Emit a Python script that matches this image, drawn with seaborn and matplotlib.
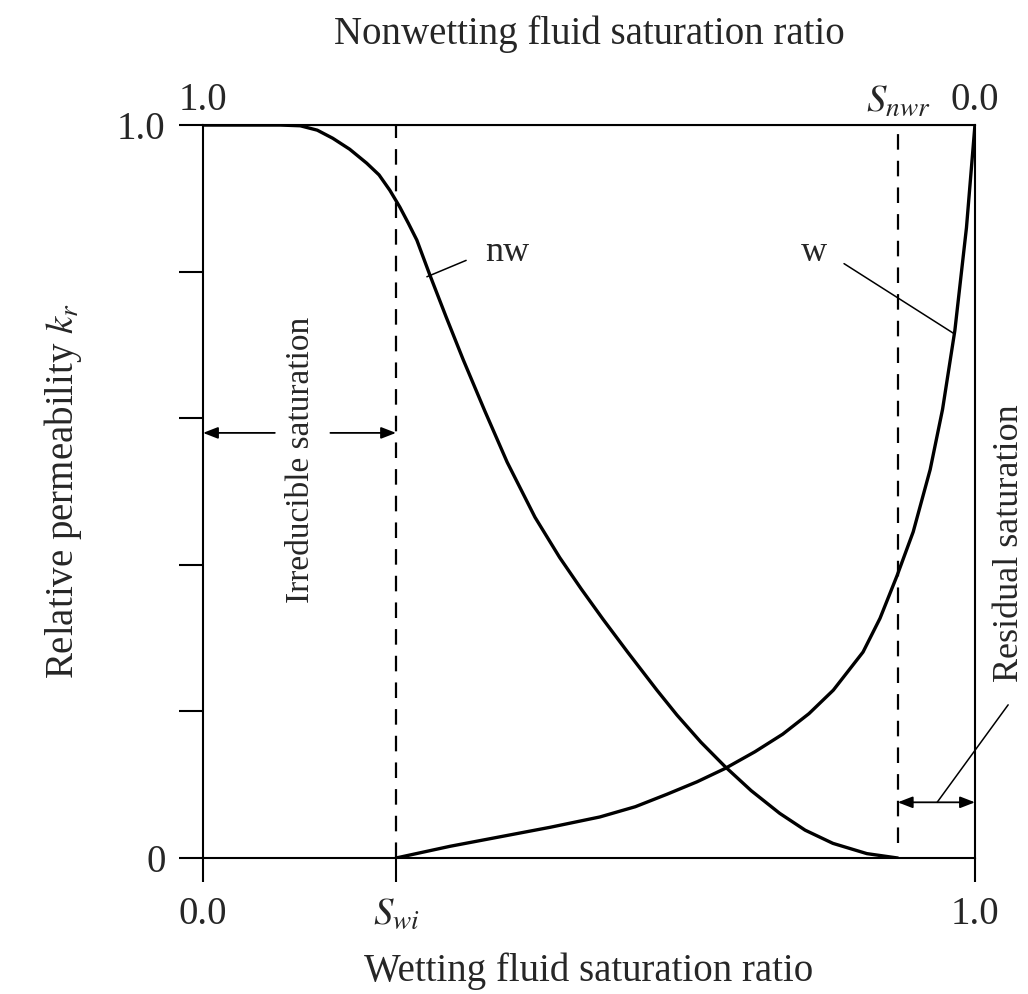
import numpy as np
import pandas as pd
import matplotlib
matplotlib.use("Agg")
import matplotlib.pyplot as plt
import seaborn as sns

# ---------------------------------------------------------------------------
# Data (wetting saturation ratio vs relative permeability)
# ---------------------------------------------------------------------------
S_WI = 0.25          # irreducible wetting saturation
S_NWR_POS = 0.90     # position of the residual nonwetting saturation line

nw_sat = [0.0, 0.10, 0.126, 0.148, 0.168, 0.19, 0.212, 0.228, 0.242, 0.255,
          0.266, 0.277, 0.294, 0.315, 0.337, 0.365, 0.394, 0.43, 0.462, 0.49,
          0.518, 0.55, 0.588, 0.614, 0.645, 0.676, 0.71, 0.747, 0.78, 0.816,
          0.86, 0.90]
nw_kr = [1.0, 1.0, 0.999, 0.993, 0.982, 0.967, 0.948, 0.932, 0.911, 0.888,
         0.866, 0.843, 0.795, 0.738, 0.680, 0.610, 0.540, 0.465, 0.410, 0.367,
         0.326, 0.281, 0.229, 0.195, 0.158, 0.125, 0.092, 0.061, 0.038, 0.020,
         0.006, 0.0]

w_sat = [0.25, 0.32, 0.385, 0.45, 0.514, 0.56, 0.601, 0.64, 0.676, 0.715,
         0.751, 0.785, 0.8165, 0.855, 0.877, 0.899, 0.92, 0.942, 0.958, 0.974,
         0.989, 1.0]
w_kr = [0.0, 0.016, 0.029, 0.042, 0.056, 0.070, 0.087, 0.104, 0.122, 0.145,
        0.169, 0.197, 0.229, 0.281, 0.327, 0.385, 0.445, 0.530, 0.612, 0.720,
        0.860, 1.0]

y_ticks = [0.0, 0.2, 0.4, 0.6, 0.8, 1.0]
y_tick_labels = ["0", "", "", "", "", "1.0"]
x_ticks = [0.0, S_WI, 1.0]
x_tick_labels = ["0.0", "$S_{wi}$", "1.0"]
top_ticks = [0.0, S_NWR_POS, 1.0]
top_tick_labels = ["1.0", "$S_{nwr}$", "0.0"]

df = pd.concat([
    pd.DataFrame({"sat": nw_sat, "kr": nw_kr, "phase": "nw"}),
    pd.DataFrame({"sat": w_sat, "kr": w_kr, "phase": "w"}),
])

sns.set_style("ticks")
plt.rcParams["font.family"] = ["Liberation Serif", "DejaVu Serif"]
plt.rcParams["mathtext.fontset"] = "stix"

FS = 28
fig = plt.figure(figsize=(10.28, 9.94), dpi=100)
ax = fig.add_axes([0.1975, 0.1368, 0.7509, 0.7374])

sns.lineplot(data=df, x="sat", y="kr", units="phase", estimator=None,
             sort=False, color="black", lw=2.4, ax=ax, legend=False)

# dashed saturation limits
ax.plot([S_WI, S_WI], [0, 1], color="black", lw=1.6, dashes=(7, 5))
ax.plot([S_NWR_POS, S_NWR_POS], [0.02, 1], color="black", lw=1.6, dashes=(7, 5))

ax.set_xlim(0, 1)
ax.set_ylim(0, 1)
for s in ax.spines.values():
    s.set_linewidth(1.5)
    s.set_color("black")

ax.set_xticks(x_ticks)
ax.set_xticklabels(x_tick_labels, fontsize=FS)
ax.set_yticks(y_ticks)
ax.set_yticklabels(y_tick_labels, fontsize=FS)
ax.tick_params(direction="out", length=17, width=1.5, color="black", pad=10)
ax.tick_params(axis="y", pad=10)

ax.set_xlabel("Wetting fluid saturation ratio", fontsize=FS, labelpad=14)
ax.set_ylabel("Relative permeability $k_r$", fontsize=FS, labelpad=24)

top = ax.secondary_xaxis("top")
top.set_xticks(top_ticks)
top.set_xticklabels(top_tick_labels, fontsize=FS)
top.tick_params(length=0, pad=4)
top.set_xlabel("Nonwetting fluid saturation ratio", fontsize=FS, labelpad=28)

# curve labels
ax.annotate("nw", xy=(0.290, 0.793), xytext=(0.365, 0.826), fontsize=26,
            va="center", ha="left",
            arrowprops=dict(arrowstyle="-", lw=1.1, color="black",
                            shrinkA=12, shrinkB=0, relpos=(0, 0.5)))
ax.annotate("w", xy=(0.972, 0.716), xytext=(0.791, 0.826), fontsize=26,
            va="center", ha="center",
            arrowprops=dict(arrowstyle="-", lw=1.1, color="black",
                            shrinkA=12, shrinkB=0, relpos=(1, 0.5)))

# irreducible saturation arrows
arr = dict(arrowstyle="-|>,head_length=0.9,head_width=0.35", lw=1.3,
           color="black", shrinkA=0, shrinkB=0)
ax.annotate("", xy=(0.0, 0.58), xytext=(0.093, 0.58), arrowprops=arr)
ax.annotate("", xy=(S_WI, 0.58), xytext=(0.165, 0.58), arrowprops=arr)
ax.text(0.126, 0.543, "Irreducible saturation", rotation=90, fontsize=24,
        ha="center", va="center")

# residual saturation arrows
arr2 = dict(arrowstyle="<|-|>,head_length=0.9,head_width=0.35", lw=1.3,
            color="black", shrinkA=0, shrinkB=0)
ax.annotate("", xy=(1.0, 0.076), xytext=(S_NWR_POS, 0.076), arrowprops=arr2)
ax.annotate("", xy=(0.951, 0.076), xytext=(1.043, 0.209),
            arrowprops=dict(arrowstyle="-", lw=1.1, color="black",
                            shrinkA=0, shrinkB=0), annotation_clip=False)
ax.text(1.045, 0.43, "Residual saturation", rotation=90, fontsize=26,
        ha="center", va="center", clip_on=False)

fig.savefig("out.png", dpi=100)
